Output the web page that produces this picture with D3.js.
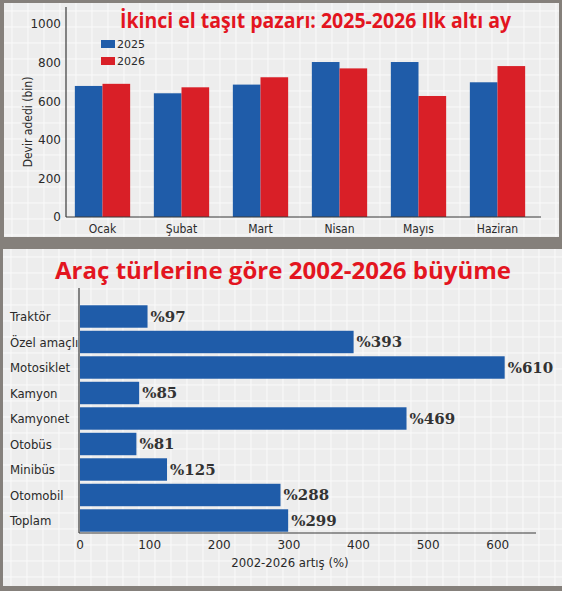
<!DOCTYPE html>
<html>
<head>
<meta charset="utf-8">
<script src="https://cdn.jsdelivr.net/npm/d3@7"></script>
<style>
  html, body { margin: 0; padding: 0; background: #85807b; }
  svg { display: block; }
</style>
</head>
<body>
<svg id="chart" width="562" height="591"></svg>
<script>
// Top chart data: second hand vehicle market, first six months (thousand)
var months = ["Ocak", "Şubat", "Mart", "Nisan", "Mayıs", "Haziran"];
var sales2025 = [679, 641, 686, 803, 803, 698];
var sales2026 = [690, 672, 724, 770, 627, 782];
var seriesNames = ["2025", "2026"];
var yTicks = [0, 200, 400, 600, 800, 1000];

// Bottom chart data: growth by vehicle type 2002-2026 (%)
var vehicleTypes = ["Traktör", "Özel amaçlı", "Motosiklet", "Kamyon", "Kamyonet", "Otobüs", "Minibüs", "Otomobil", "Toplam"];
var growth = [97, 393, 610, 85, 469, 81, 125, 288, 299];
var xTicks = [0, 100, 200, 300, 400, 500, 600];

var blue = "#1f5ca9",
    red = "#d91f27",
    titleRed = "#e3151f",
    axisColor = "#3a3a3a",
    textColor = "#2a2a2a",
    condensed = "'DejaVu Sans Condensed', 'Liberation Sans Narrow', sans-serif";

var svg = d3.select("#chart");

// Draw a light panel with a faint white grid on it
function panel(x, y, w, h) {
    var g = svg.append("g");
    g.append("rect")
        .attr("x", x).attr("y", y)
        .attr("width", w).attr("height", h)
        .style("fill", "#ededed");
    var step = 16;
    g.selectAll(".vgrid")
        .data(d3.range(x + 8, x + w, step))
        .enter().append("line")
            .attr("x1", function (d) { return d; })
            .attr("x2", function (d) { return d; })
            .attr("y1", y).attr("y2", y + h)
            .style("stroke", "#fafafa").style("stroke-width", 1);
    g.selectAll(".hgrid")
        .data(d3.range(y + 8, y + h, step))
        .enter().append("line")
            .attr("y1", function (d) { return d; })
            .attr("y2", function (d) { return d; })
            .attr("x1", x).attr("x2", x + w)
            .style("stroke", "#fafafa").style("stroke-width", 1);
    return g;
}

panel(4, 3, 555, 234);
panel(3, 249, 559, 337);

// ---------- Top chart ----------
var x0 = d3.scaleBand()
    .domain(months)
    .range([63, 537])
    .paddingInner(0.3)
    .paddingOuter(0.15);

var x1 = d3.scaleBand()
    .domain(seriesNames)
    .range([0, x0.bandwidth()]);

var y = d3.scaleLinear()
    .domain([0, 1000])
    .range([217, 24]);

var topChart = svg.append("g");

// Bars
var groups = topChart.selectAll(".month")
    .data(months)
    .enter().append("g")
        .attr("transform", function (d) { return "translate(" + x0(d) + ",0)"; });

groups.append("rect")
    .attr("x", x1("2025"))
    .attr("y", function (d, i) { return y(sales2025[i]); })
    .attr("width", x1.bandwidth())
    .attr("height", function (d, i) { return y(0) - y(sales2025[i]); })
    .style("fill", blue);

groups.append("rect")
    .attr("x", x1("2026"))
    .attr("y", function (d, i) { return y(sales2026[i]); })
    .attr("width", x1.bandwidth())
    .attr("height", function (d, i) { return y(0) - y(sales2026[i]); })
    .style("fill", red);

// Axes
topChart.append("line")
    .attr("x1", 66).attr("x2", 66)
    .attr("y1", 7).attr("y2", y(0))
    .style("stroke", axisColor).style("stroke-width", 1.2);
topChart.append("line")
    .attr("x1", 66).attr("x2", 541)
    .attr("y1", y(0)).attr("y2", y(0))
    .style("stroke", axisColor).style("stroke-width", 1.2);

topChart.selectAll(".ytick")
    .data(yTicks)
    .enter().append("text")
        .attr("x", 61)
        .attr("y", function (d) { return y(d); })
        .attr("dy", "0.36em")
        .attr("text-anchor", "end")
        .style("font-family", "'DejaVu Sans', sans-serif")
        .style("font-size", "12px")
        .style("fill", textColor)
        .text(function (d) { return d; });

topChart.selectAll(".xlabel")
    .data(months)
    .enter().append("text")
        .attr("x", function (d) { return x0(d) + x0.bandwidth() / 2; })
        .attr("y", 233)
        .attr("text-anchor", "middle")
        .style("font-family", condensed)
        .style("font-size", "12px")
        .style("fill", textColor)
        .text(function (d) { return d; });

topChart.append("text")
    .attr("transform", "translate(32,122) rotate(-90)")
    .attr("text-anchor", "middle")
    .style("font-family", condensed)
    .style("font-size", "12px")
    .style("fill", textColor)
    .text("Devir adedi (bin)");

// Legend
var legendColors = [blue, red];
var legend = topChart.selectAll(".legend")
    .data(seriesNames)
    .enter().append("g")
        .attr("transform", function (d, i) { return "translate(101," + (40 + i * 17) + ")"; });
legend.append("rect")
    .attr("width", 14).attr("height", 8)
    .style("fill", function (d, i) { return legendColors[i]; });
legend.append("text")
    .attr("x", 16).attr("y", 8)
    .style("font-family", "'DejaVu Sans', sans-serif")
    .style("font-size", "11px")
    .style("fill", textColor)
    .text(function (d) { return d; });

// Title
topChart.append("text")
    .attr("x", 120).attr("y", 28)
    .attr("textLength", 391)
    .attr("lengthAdjust", "spacingAndGlyphs")
    .style("font-family", "'Open Sans', sans-serif")
    .style("font-weight", 700)
    .style("font-size", "21px")
    .style("fill", titleRed)
    .text("İkinci el taşıt pazarı: 2025-2026 Ilk altı ay");

// ---------- Bottom chart ----------
var xs = d3.scaleLinear()
    .domain([0, 655])
    .range([80, 536]);

var ys = d3.scaleBand()
    .domain(vehicleTypes)
    .range([304, 533])
    .paddingInner(0.12)
    .paddingOuter(0.05);

var bottomChart = svg.append("g");

bottomChart.append("text")
    .attr("x", 55).attr("y", 279)
    .attr("textLength", 456)
    .attr("lengthAdjust", "spacingAndGlyphs")
    .style("font-family", "'Open Sans', sans-serif")
    .style("font-weight", 700)
    .style("font-size", "23px")
    .style("fill", titleRed)
    .text("Araç türlerine göre 2002-2026 büyüme");

bottomChart.selectAll(".hbar")
    .data(vehicleTypes)
    .enter().append("rect")
        .attr("x", xs(0))
        .attr("y", function (d) { return ys(d); })
        .attr("width", function (d, i) { return xs(growth[i]) - xs(0); })
        .attr("height", ys.bandwidth())
        .style("fill", blue);

bottomChart.selectAll(".value")
    .data(vehicleTypes)
    .enter().append("text")
        .attr("x", function (d, i) { return xs(growth[i]) + 3; })
        .attr("y", function (d) { return ys(d) + ys.bandwidth() / 2; })
        .attr("dy", "0.36em")
        .style("font-family", "'DejaVu Serif', serif")
        .style("font-weight", 700)
        .style("font-size", "15px")
        .style("fill", "#333")
        .text(function (d, i) { return "%" + growth[i]; });

bottomChart.selectAll(".cat")
    .data(vehicleTypes)
    .enter().append("text")
        .attr("x", 10)
        .attr("y", function (d) { return ys(d) + ys.bandwidth() / 2; })
        .attr("dy", "0.36em")
        .style("font-family", condensed)
        .style("font-size", "13px")
        .style("fill", textColor)
        .text(function (d) { return d; });

bottomChart.append("line")
    .attr("x1", 79).attr("x2", 79)
    .attr("y1", 288).attr("y2", 533)
    .style("stroke", axisColor).style("stroke-width", 1.2);
bottomChart.append("line")
    .attr("x1", 79).attr("x2", 536)
    .attr("y1", 533).attr("y2", 533)
    .style("stroke", axisColor).style("stroke-width", 1.2);

bottomChart.selectAll(".xtick")
    .data(xTicks)
    .enter().append("text")
        .attr("x", function (d) { return xs(d); })
        .attr("y", 549)
        .attr("text-anchor", "middle")
        .style("font-family", "'DejaVu Sans', sans-serif")
        .style("font-size", "12px")
        .style("fill", textColor)
        .text(function (d) { return d; });

bottomChart.append("text")
    .attr("x", 290).attr("y", 567)
    .attr("text-anchor", "middle")
    .style("font-family", condensed)
    .style("font-size", "13px")
    .style("fill", textColor)
    .text("2002-2026 artış (%)");
</script>
</body>
</html>
